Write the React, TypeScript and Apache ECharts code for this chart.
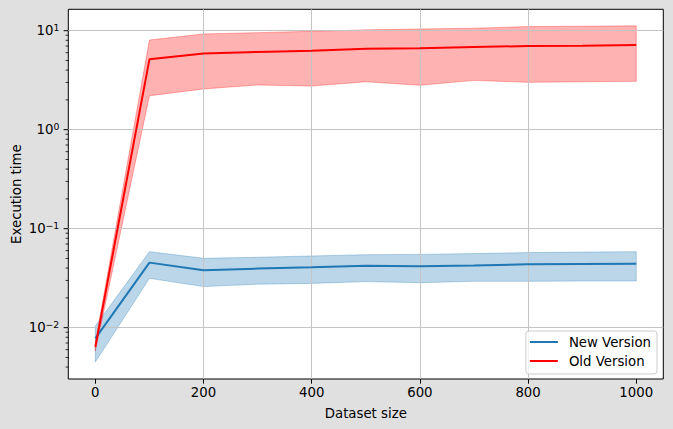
import React, { useEffect, useRef } from 'react';
import * as echarts from 'echarts';

// ---- data ----
const datasetSizes = [0, 100, 200, 300, 400, 500, 600, 700, 800, 900, 1000];

const newMean = [0.0078, 0.0454, 0.038, 0.0395, 0.0407, 0.0423, 0.0418, 0.0425, 0.0436, 0.044, 0.0443];
const newLower = [0.0045, 0.0315, 0.026, 0.0275, 0.028, 0.0292, 0.0285, 0.0294, 0.0294, 0.0296, 0.0296];
const newUpper = [0.0104, 0.0586, 0.0502, 0.0514, 0.053, 0.0546, 0.055, 0.056, 0.0573, 0.058, 0.0586];

const oldMean = [0.0064, 5.14, 5.9, 6.1, 6.28, 6.58, 6.64, 6.84, 7.0, 7.05, 7.17];
const oldLower = [0.0058, 2.2, 2.58, 2.83, 2.76, 3.05, 2.81, 3.15, 3.01, 3.05, 3.08];
const oldUpper = [0.0071, 8.05, 9.27, 9.55, 9.86, 10.2, 10.4, 10.6, 11.0, 11.1, 11.2];

const xTickValues = [0, 200, 400, 600, 800, 1000];
const yMajorTicks = [0.01, 0.1, 1, 10];
const yMinorTicks = [
  0.004, 0.005, 0.006, 0.007, 0.008, 0.009,
  0.02, 0.03, 0.04, 0.05, 0.06, 0.07, 0.08, 0.09,
  0.2, 0.3, 0.4, 0.5, 0.6, 0.7, 0.8, 0.9,
  2, 3, 4, 5, 6, 7, 8, 9,
];

const seriesNames = ['New Version', 'Old Version'];

const X_MIN = -50;
const X_MAX = 1050;
const Y_MIN = 0.00303;
const Y_MAX = 16.45;

const FONT = 'DejaVu Sans';
const FS = 13.3;

function bandSeries(name: string, lower: number[], upper: number[], color: string) {
  return {
    type: 'custom',
    name,
    z: 1,
    silent: true,
    data: datasetSizes.map((x, i) => [x, lower[i], upper[i]]),
    encode: { x: 0, y: [1, 2] },
    renderItem: (params: any, api: any) => {
      if (params.dataIndex !== 0) return null;
      const pts: number[][] = [];
      for (let i = 0; i < datasetSizes.length; i++) pts.push(api.coord([datasetSizes[i], upper[i]]));
      for (let i = datasetSizes.length - 1; i >= 0; i--) pts.push(api.coord([datasetSizes[i], lower[i]]));
      return {
        type: 'polygon',
        shape: { points: pts },
        style: { fill: color, stroke: color, lineWidth: 1 },
      };
    },
  };
}

export default function App() {
  const ref = useRef<HTMLDivElement>(null);

  useEffect(() => {
    if (!ref.current) return;
    const chart = echarts.init(ref.current, undefined, { renderer: 'svg' });

    const tickData = [
      ...yMajorTicks.map((v) => [X_MIN, v, 1]),
      ...yMinorTicks.map((v) => [X_MIN, v, 0]),
    ];

    const option: any = {
      animation: false,
      backgroundColor: '#e0e0e0',
      textStyle: { fontFamily: FONT, color: '#000' },
      grid: {
        left: 68.3,
        top: 9.3,
        width: 595,
        height: 369.7,
        show: true,
        containLabel: false,
        outerBoundsMode: 'none',
        backgroundColor: '#ffffff',
        borderColor: '#000000',
        borderWidth: 1,
      },
      legend: {
        orient: 'vertical',
        right: 16,
        bottom: 55,
        data: seriesNames,
        icon: 'rect',
        itemWidth: 28,
        itemHeight: 2,
        itemGap: 3,
        padding: [3, 6, 5, 4],
        backgroundColor: 'rgba(255,255,255,0.8)',
        borderColor: '#cccccc',
        borderWidth: 1,
        borderRadius: 3,
        textStyle: { fontFamily: FONT, fontSize: FS, color: '#000', lineHeight: 16, padding: [0, 0, 0, 6] },
      },
      xAxis: {
        type: 'value',
        min: X_MIN,
        max: X_MAX,
        z: 2,
        axisLine: { show: false },
        axisTick: {
          show: true,
          length: 4.7,
          lineStyle: { color: '#000', width: 1 },
          customValues: xTickValues,
        },
        axisLabel: {
          customValues: xTickValues,
          margin: 7,
          fontFamily: FONT,
          fontSize: FS,
          color: '#000',
          formatter: (v: number) => String(v),
        },
        splitLine: {
          show: true,
          showMinLine: false,
          showMaxLine: false,
          lineStyle: { color: '#c4c4c4', width: 1 },
        },
        name: 'Dataset size',
        nameLocation: 'middle',
        nameGap: 28,
        nameMoveOverlap: false,
        nameTextStyle: { fontFamily: FONT, fontSize: FS, color: '#000' },
      },
      yAxis: {
        type: 'log',
        logBase: 10,
        min: Y_MIN,
        max: Y_MAX,
        z: 2,
        axisLine: { show: false },
        axisTick: { show: false },
        minorTick: { show: false },
        splitLine: {
          show: true,
          showMinLine: false,
          showMaxLine: false,
          lineStyle: { color: '#c4c4c4', width: 1 },
        },
        axisLabel: {
          showMinLabel: false,
          showMaxLabel: false,
          margin: 9,
          color: '#000',
          formatter: (v: number) => {
            const e = Math.round(Math.log10(v));
            const s = e < 0 ? '\u2212' + -e : String(e);
            return '{b|10}{s|' + s + '}';
          },
          rich: {
            b: { fontFamily: FONT, fontSize: FS, lineHeight: 16, color: '#000' },
            s: { fontFamily: FONT, fontSize: 9.3, lineHeight: 9.3, verticalAlign: 'top', color: '#000' },
          },
        },
        name: 'Execution time',
        nameLocation: 'middle',
        nameGap: 45,
        nameMoveOverlap: false,
        nameRotate: 90,
        nameTextStyle: { fontFamily: FONT, fontSize: FS, color: '#000' },
      },
      series: [
        bandSeries('New band', newLower, newUpper, 'rgba(31,119,180,0.3)'),
        bandSeries('Old band', oldLower, oldUpper, 'rgba(255,0,0,0.3)'),
        {
          type: 'line',
          name: seriesNames[0],
          z: 3,
          symbol: 'none',
          data: datasetSizes.map((x, i) => [x, newMean[i]]),
          lineStyle: { color: '#1f77b4', width: 2 },
          itemStyle: { color: '#1f77b4' },
        },
        {
          type: 'line',
          name: seriesNames[1],
          z: 3,
          symbol: 'none',
          data: datasetSizes.map((x, i) => [x, oldMean[i]]),
          lineStyle: { color: '#ff0000', width: 2 },
          itemStyle: { color: '#ff0000' },
        },
        {
          type: 'custom',
          name: 'y ticks',
          z: 4,
          silent: true,
          clip: false,
          data: tickData,
          encode: { x: 0, y: 1 },
          renderItem: (params: any, api: any) => {
            const p = api.coord([api.value(0), api.value(1)]);
            const major = api.value(2) === 1;
            const len = major ? 4.7 : 2.7;
            return {
              type: 'line',
              shape: { x1: p[0] - len, y1: p[1], x2: p[0], y2: p[1] },
              style: { stroke: '#000', lineWidth: major ? 1 : 0.8 },
            };
          },
        },
      ],
    };

    chart.setOption(option);
    return () => chart.dispose();
  }, []);

  return (
    <div
      ref={ref}
      style={{ position: 'absolute', left: 0, top: 0, width: 673, height: 429 }}
    />
  );
}
